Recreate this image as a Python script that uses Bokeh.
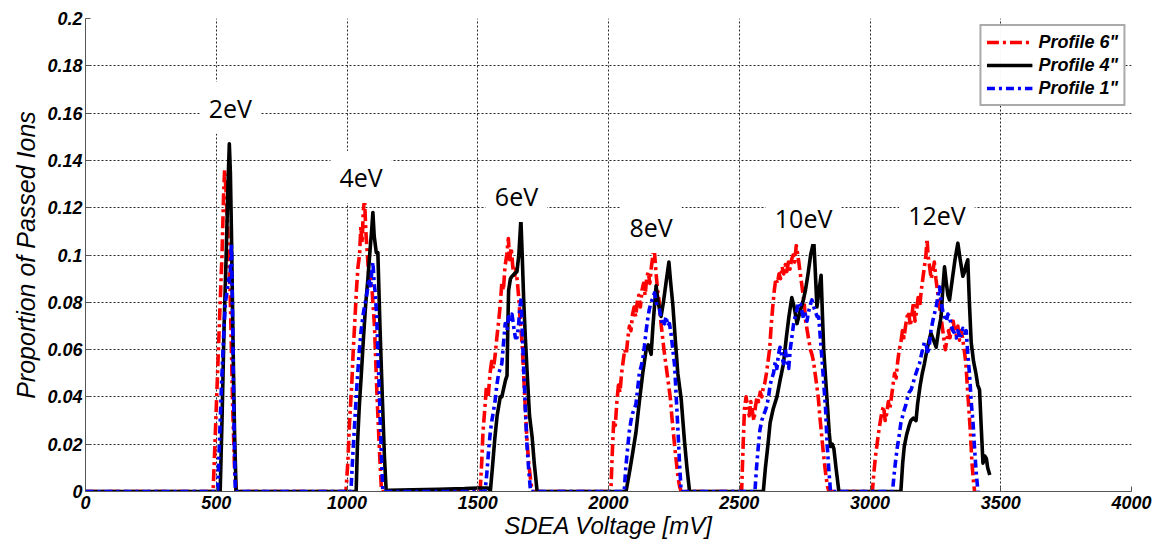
from bokeh.plotting import figure
from bokeh.models import ColumnDataSource, Legend, LegendItem, Range1d, FixedTicker
from bokeh.core.properties import value
from bokeh.embed import file_html
from bokeh.resources import INLINE

# SDEA voltage [mV] vs proportion of passed ions, one trace per profile
profile_6 = [
    (0, 0), (488, 0), (495, 0.02), (505, 0.05), (515, 0.08), (522, 0.10), (528, 0.125), (532, 0.136),
    (537, 0.128), (542, 0.115), (548, 0.10), (553, 0.085), (558, 0.06), (563, 0.035), (570, 0.01), (576, 0),
    (996, 0), (1003, 0.012), (1010, 0.03), (1018, 0.045), (1024, 0.06), (1030, 0.072), (1036, 0.085),
    (1042, 0.095), (1048, 0.10), (1053, 0.112), (1058, 0.105), (1062, 0.118), (1067, 0.124), (1072, 0.11),
    (1078, 0.10), (1084, 0.09), (1090, 0.092), (1096, 0.085), (1105, 0.07), (1115, 0.04), (1125, 0.015), (1132, 0),
    (1509, 0), (1515, 0.012), (1520, 0.025), (1527, 0.035), (1533, 0.044), (1540, 0.040), (1547, 0.05),
    (1553, 0.055), (1560, 0.052), (1567, 0.058), (1573, 0.065), (1580, 0.072), (1586, 0.079), (1592, 0.088),
    (1598, 0.085), (1604, 0.095), (1611, 0.10), (1617, 0.107), (1622, 0.098), (1628, 0.103), (1634, 0.095),
    (1640, 0.09), (1646, 0.094), (1652, 0.088), (1658, 0.08), (1664, 0.07), (1670, 0.062), (1676, 0.048),
    (1682, 0.035), (1688, 0.022), (1695, 0.012), (1702, 0.005), (1708, 0),
    (2009, 0), (2014, 0.015), (2020, 0.03), (2026, 0.028), (2032, 0.038), (2038, 0.045), (2044, 0.042),
    (2050, 0.05), (2056, 0.055), (2062, 0.06), (2068, 0.058), (2074, 0.065), (2080, 0.07), (2086, 0.068),
    (2092, 0.075), (2098, 0.078), (2104, 0.074), (2110, 0.08), (2116, 0.083), (2122, 0.078), (2128, 0.085),
    (2134, 0.088), (2140, 0.083), (2146, 0.09), (2152, 0.093), (2158, 0.088), (2164, 0.095), (2170, 0.10),
    (2173, 0.122), (2176, 0.101), (2182, 0.092), (2188, 0.085), (2194, 0.08), (2200, 0.072), (2206, 0.066),
    (2212, 0.06), (2218, 0.055), (2224, 0.05), (2230, 0.045), (2236, 0.04), (2242, 0.032), (2248, 0.025),
    (2254, 0.018), (2260, 0.012), (2266, 0.006), (2272, 0.002), (2278, 0),
    (2509, 0), (2515, 0.02), (2520, 0.035), (2526, 0.04), (2532, 0.036), (2538, 0.032), (2544, 0.038),
    (2550, 0.034), (2556, 0.03), (2562, 0.036), (2568, 0.04), (2574, 0.038), (2580, 0.042), (2586, 0.04),
    (2592, 0.044), (2598, 0.046), (2604, 0.05), (2610, 0.055), (2616, 0.06), (2622, 0.07), (2628, 0.078),
    (2634, 0.085), (2640, 0.09), (2646, 0.088), (2652, 0.092), (2658, 0.09), (2664, 0.095), (2670, 0.092),
    (2676, 0.096), (2682, 0.093), (2688, 0.097), (2694, 0.094), (2700, 0.098), (2706, 0.10), (2712, 0.097),
    (2718, 0.104), (2724, 0.10), (2730, 0.095), (2736, 0.09), (2742, 0.085), (2748, 0.08), (2754, 0.072),
    (2760, 0.068), (2766, 0.064), (2772, 0.06), (2778, 0.058), (2784, 0.055), (2790, 0.05), (2796, 0.045),
    (2802, 0.04), (2808, 0.032), (2814, 0.025), (2820, 0.018), (2826, 0.012), (2832, 0.006), (2838, 0.002),
    (2843, 0),
    (3009, 0), (3015, 0.008), (3021, 0.015), (3027, 0.02), (3033, 0.025), (3040, 0.03), (3046, 0.034),
    (3052, 0.036), (3058, 0.03), (3064, 0.033), (3070, 0.038), (3076, 0.035), (3082, 0.04), (3088, 0.045),
    (3094, 0.05), (3100, 0.048), (3106, 0.055), (3112, 0.06), (3118, 0.063), (3124, 0.068), (3130, 0.065),
    (3136, 0.07), (3142, 0.074), (3148, 0.076), (3154, 0.07), (3160, 0.074), (3166, 0.08), (3172, 0.072),
    (3178, 0.076), (3184, 0.082), (3190, 0.078), (3196, 0.085), (3202, 0.09), (3208, 0.095), (3214, 0.10),
    (3218, 0.107), (3222, 0.10), (3228, 0.095), (3234, 0.09), (3240, 0.093), (3246, 0.097), (3252, 0.09),
    (3258, 0.085), (3264, 0.08), (3270, 0.075), (3276, 0.07), (3282, 0.065), (3288, 0.06), (3294, 0.064),
    (3300, 0.068), (3306, 0.065), (3312, 0.07), (3318, 0.072), (3324, 0.068), (3330, 0.066), (3336, 0.07),
    (3342, 0.064), (3348, 0.068), (3354, 0.065), (3360, 0.06), (3366, 0.055), (3372, 0.045), (3378, 0.035),
    (3384, 0.025), (3390, 0.012), (3396, 0.004), (3400, 0),
]

profile_4 = [
    (0, 0), (515, 0), (522, 0.03), (530, 0.07), (538, 0.10), (545, 0.13), (550, 0.147), (554, 0.135),
    (558, 0.11), (562, 0.08), (566, 0.05), (570, 0.025), (576, 0),
    (1035, 0), (1040, 0.02), (1047, 0.036), (1055, 0.05), (1063, 0.065), (1072, 0.08), (1080, 0.09),
    (1088, 0.102), (1094, 0.11), (1099, 0.118), (1104, 0.108), (1112, 0.101), (1118, 0.101), (1126, 0.07),
    (1135, 0.04), (1143, 0.015), (1150, 0),
    (1160, 0.0005), (1250, 0.0007), (1350, 0.0009), (1450, 0.0012), (1500, 0.0015), (1540, 0.0015), (1548, 0),
    (1556, 0.01), (1565, 0.022), (1574, 0.032), (1580, 0.036), (1586, 0.04), (1592, 0.04), (1600, 0.044),
    (1606, 0.047), (1612, 0.049), (1615, 0.07), (1618, 0.085), (1625, 0.09), (1631, 0.091), (1640, 0.092),
    (1650, 0.093), (1657, 0.10), (1665, 0.115), (1670, 0.10), (1676, 0.08), (1682, 0.065), (1690, 0.048),
    (1698, 0.032), (1708, 0.023), (1716, 0.012), (1727, 0),
    (2067, 0), (2080, 0.008), (2092, 0.016), (2105, 0.025), (2118, 0.038), (2131, 0.05), (2144, 0.06),
    (2152, 0.062), (2163, 0.058), (2170, 0.07), (2182, 0.087), (2190, 0.08), (2201, 0.074), (2210, 0.08),
    (2222, 0.09), (2231, 0.097), (2238, 0.088), (2246, 0.079), (2255, 0.065), (2265, 0.05), (2278, 0.039),
    (2290, 0.022), (2300, 0.01), (2310, 0),
    (2592, 0), (2600, 0.01), (2610, 0.02), (2618, 0.029), (2630, 0.035), (2644, 0.04), (2656, 0.047),
    (2669, 0.054), (2680, 0.065), (2690, 0.074), (2701, 0.082), (2710, 0.078), (2721, 0.071), (2732, 0.076),
    (2743, 0.08), (2753, 0.085), (2763, 0.092), (2773, 0.10), (2785, 0.106), (2790, 0.095), (2797, 0.078),
    (2805, 0.085), (2813, 0.0914), (2818, 0.075), (2823, 0.06), (2830, 0.048), (2838, 0.035), (2844, 0.025),
    (2849, 0.019), (2856, 0.02), (2862, 0.018), (2870, 0.01), (2881, 0),
    (3118, 0), (3125, 0.012), (3131, 0.019), (3140, 0.024), (3150, 0.028), (3156, 0.03), (3166, 0.031),
    (3176, 0.03), (3182, 0.037), (3192, 0.045), (3200, 0.05), (3208, 0.054), (3218, 0.06), (3226, 0.064),
    (3233, 0.067), (3243, 0.064), (3253, 0.061), (3262, 0.068), (3272, 0.074), (3278, 0.085), (3285, 0.095),
    (3292, 0.088), (3298, 0.083), (3304, 0.081), (3315, 0.09), (3325, 0.098), (3336, 0.105), (3345, 0.098),
    (3355, 0.091), (3362, 0.093), (3368, 0.096), (3374, 0.098), (3380, 0.08), (3387, 0.063), (3396, 0.055),
    (3405, 0.05), (3412, 0.045), (3419, 0.043), (3425, 0.028), (3432, 0.012), (3439, 0.015), (3445, 0.014),
    (3450, 0.01), (3458, 0.007),
]

profile_1 = [
    (0, 0), (505, 0), (512, 0.02), (520, 0.045), (528, 0.065), (535, 0.08), (542, 0.085), (548, 0.09),
    (552, 0.088), (556, 0.10), (558, 0.105), (561, 0.085), (564, 0.06), (567, 0.035), (570, 0.015), (573, 0),
    (1015, 0), (1022, 0.015), (1030, 0.03), (1038, 0.045), (1046, 0.058), (1054, 0.068), (1062, 0.075),
    (1070, 0.08), (1078, 0.085), (1084, 0.09), (1090, 0.086), (1094, 0.092), (1099, 0.097), (1104, 0.088),
    (1108, 0.084), (1113, 0.075), (1118, 0.06), (1124, 0.04), (1130, 0.02), (1137, 0),
    (1528, 0), (1535, 0.008), (1542, 0.018), (1548, 0.025), (1554, 0.03), (1560, 0.034), (1566, 0.038),
    (1573, 0.045), (1580, 0.05), (1586, 0.052), (1592, 0.054), (1598, 0.062), (1605, 0.071), (1612, 0.068),
    (1618, 0.074), (1624, 0.072), (1631, 0.075), (1637, 0.07), (1644, 0.065), (1650, 0.065), (1656, 0.07),
    (1661, 0.078), (1666, 0.0816), (1671, 0.065), (1676, 0.051), (1682, 0.035), (1688, 0.02), (1695, 0.009),
    (1702, 0),
    (2060, 0), (2066, 0.01), (2073, 0.018), (2079, 0.025), (2086, 0.03), (2092, 0.033), (2099, 0.035),
    (2105, 0.037), (2112, 0.044), (2118, 0.05), (2125, 0.053), (2131, 0.056), (2138, 0.062), (2144, 0.068),
    (2150, 0.073), (2156, 0.077), (2163, 0.08), (2170, 0.082), (2176, 0.084), (2182, 0.08), (2188, 0.078),
    (2195, 0.077), (2201, 0.073), (2208, 0.07), (2214, 0.071), (2220, 0.074), (2227, 0.07), (2233, 0.071),
    (2240, 0.066), (2246, 0.06), (2253, 0.053), (2259, 0.04), (2266, 0.025), (2272, 0.011), (2278, 0),
    (2560, 0), (2566, 0.01), (2572, 0.018), (2579, 0.026), (2586, 0.03), (2592, 0.032), (2599, 0.034),
    (2605, 0.036), (2612, 0.04), (2618, 0.045), (2625, 0.048), (2631, 0.05), (2638, 0.055), (2644, 0.052),
    (2650, 0.058), (2656, 0.061), (2663, 0.057), (2670, 0.054), (2676, 0.06), (2682, 0.056), (2689, 0.052),
    (2695, 0.06), (2702, 0.066), (2708, 0.071), (2714, 0.074), (2721, 0.077), (2727, 0.08), (2733, 0.0794),
    (2740, 0.076), (2746, 0.073), (2753, 0.075), (2759, 0.072), (2765, 0.076), (2772, 0.079), (2778, 0.081),
    (2785, 0.078), (2791, 0.076), (2798, 0.074), (2804, 0.0738), (2810, 0.065), (2817, 0.055), (2823, 0.0457),
    (2830, 0.035), (2836, 0.02), (2842, 0.01), (2849, 0),
    (3086, 0), (3093, 0.008), (3099, 0.014), (3105, 0.019), (3112, 0.024), (3118, 0.029), (3125, 0.032),
    (3131, 0.0345), (3138, 0.037), (3144, 0.04), (3150, 0.042), (3157, 0.043), (3163, 0.045), (3170, 0.048),
    (3176, 0.05), (3182, 0.052), (3189, 0.054), (3195, 0.057), (3201, 0.06), (3208, 0.063), (3214, 0.0626),
    (3221, 0.058), (3227, 0.062), (3233, 0.068), (3240, 0.072), (3246, 0.075), (3253, 0.078), (3259, 0.082),
    (3266, 0.0865), (3272, 0.08), (3279, 0.076), (3285, 0.074), (3292, 0.072), (3298, 0.075), (3304, 0.074),
    (3311, 0.07), (3317, 0.068), (3323, 0.067), (3330, 0.065), (3336, 0.068), (3342, 0.066), (3349, 0.066),
    (3355, 0.069), (3362, 0.067), (3368, 0.068), (3374, 0.058), (3381, 0.049), (3387, 0.038), (3394, 0.029),
    (3400, 0.018), (3406, 0.008), (3413, 0),
]

# ion energy annotations placed above each group of peaks
energy_labels = ["2eV", "4eV", "6eV", "8eV", "10eV", "12eV"]
energy_label_mv = [554, 1054, 1648, 2163, 2746, 3256]
energy_label_val = [0.1623, 0.133, 0.125, 0.1118, 0.1156, 0.117]

x_ticks = [0, 500, 1000, 1500, 2000, 2500, 3000, 3500, 4000]
y_ticks = [0, 0.02, 0.04, 0.06, 0.08, 0.1, 0.12, 0.14, 0.16, 0.18, 0.2]
y_tick_labels = ["0", "0.02", "0.04", "0.06", "0.08", "0.1", "0.12", "0.14", "0.16", "0.18", "0.2"]

series = [
    ('Profile 6"', profile_6, "#ff0000", "12 4 3 4"),
    ('Profile 4"', profile_4, "#000000", "solid"),
    ('Profile 1"', profile_1, "#0000ff", "8 4 3 4"),
]

p = figure(
    width=1159, height=541, output_backend="svg", toolbar_location=None,
    x_range=Range1d(0, 4000), y_range=Range1d(0, 0.2),
    min_border_left=85, min_border_right=28, min_border_top=18, min_border_bottom=49,
    background_fill_color="white", border_fill_color="white",
)
p.outline_line_color = None

tick_font = "Liberation Sans"
for ax in (p.xaxis[0], p.yaxis[0]):
    ax.major_label_text_font = tick_font
    ax.major_label_text_font_style = "bold italic"
    ax.major_label_text_font_size = "18px"
    ax.major_label_text_color = "black"
    ax.axis_label_text_font = tick_font
    ax.axis_label_text_font_style = "italic"
    ax.axis_label_text_color = "black"
    ax.axis_line_color = "#555555"
    ax.axis_line_width = 1
    ax.major_tick_in = 5
    ax.major_tick_out = 0
    ax.major_tick_line_color = "#555555"
    ax.minor_tick_line_color = None

p.xaxis.ticker = FixedTicker(ticks=x_ticks)
p.yaxis.ticker = FixedTicker(ticks=y_ticks)
p.yaxis.major_label_overrides = {t: s for t, s in zip(y_ticks, y_tick_labels)}
p.xaxis.axis_label = "SDEA Voltage [mV]"
p.yaxis.axis_label = "Proportion of Passed Ions"
p.xaxis.axis_label_text_font_size = "24px"
p.yaxis.axis_label_text_font_size = "25px"
p.xaxis.major_label_standoff = 4
p.xaxis.axis_label_standoff = 0
p.yaxis.major_label_standoff = 3
p.yaxis.axis_label_standoff = 4

for g in (p.xgrid, p.ygrid):
    g.grid_line_color = "black"
    g.grid_line_dash = "2 2"
    g.grid_line_width = 1
    g.grid_line_alpha = 0.85

items = []
for name, pts, color, dash in series:
    src = ColumnDataSource(dict(mv=[a for a, _ in pts], val=[b for _, b in pts]))
    r = p.line("mv", "val", source=src, line_color=color, line_width=3.6,
               line_dash=dash, line_join="round")
    items.append(LegendItem(label=name, renderers=[r]))

label_src = ColumnDataSource(dict(x=energy_label_mv, y=energy_label_val, t=energy_labels))
p.text("x", "y", text="t", source=label_src, text_font=value("Open Sans"),
       text_font_size="25px", text_align="center", text_baseline="middle",
       text_color="black", background_fill_color="white", padding=9)

legend = Legend(items=items, location="top_right")
legend.label_text_font = tick_font
legend.label_text_font_style = "bold italic"
legend.label_text_font_size = "18px"
legend.label_text_color = "black"
legend.glyph_width = 46
legend.glyph_height = 22
legend.label_height = 22
legend.spacing = 1
legend.padding = 5
legend.margin = 6
legend.label_standoff = 6
legend.border_line_color = "#555555"
legend.border_line_width = 2
legend.background_fill_color = "white"
p.add_layout(legend)

open("out.html", "w").write(file_html(p, INLINE))
